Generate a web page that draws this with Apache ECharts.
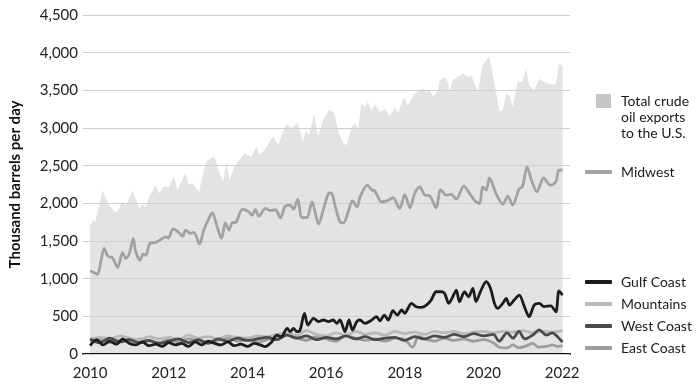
<!DOCTYPE html>
<html>
<head>
<meta charset="utf-8">
<script src="https://cdn.jsdelivr.net/npm/echarts@6/dist/echarts.min.js"></script>
<style>html,body{margin:0;padding:0;background:#fff;}#c{width:700px;height:387px;}</style>
</head>
<body>
<div id="c"></div>
<script>
// [year, thousand barrels per day]
const totalPts = [[2010.00,1700],[2010.07,1777],[2010.13,1754],[2010.32,2166],[2010.45,2002],[2010.61,1887],[2010.70,1890],[2010.81,2020],[2010.91,1976],[2011.08,2166],[2011.25,1932],[2011.33,1989],[2011.42,1950],[2011.50,2086],[2011.67,2241],[2011.75,2131],[2011.88,2228],[2012.01,2210],[2012.13,2365],[2012.22,2175],[2012.43,2405],[2012.51,2241],[2012.60,2270],[2012.77,2153],[2012.94,2550],[2013.06,2595],[2013.16,2617],[2013.29,2400],[2013.38,2285],[2013.47,2532],[2013.54,2307],[2013.67,2484],[2013.92,2665],[2014.10,2620],[2014.23,2749],[2014.30,2640],[2014.43,2700],[2014.65,2891],[2014.78,2771],[2014.99,3059],[2015.11,2997],[2015.28,3067],[2015.41,2815],[2015.49,2970],[2015.57,2900],[2015.70,3192],[2015.79,2881],[2015.92,3103],[2016.08,3245],[2016.20,3200],[2016.33,2927],[2016.44,2794],[2016.52,2771],[2016.65,3014],[2016.73,3059],[2016.82,2990],[2016.89,3324],[2016.99,3280],[2017.06,3346],[2017.16,3230],[2017.24,3315],[2017.37,3213],[2017.49,3260],[2017.62,3156],[2017.75,3271],[2017.83,3200],[2017.98,3412],[2018.08,3300],[2018.25,3456],[2018.46,3523],[2018.55,3480],[2018.63,3510],[2018.72,3412],[2018.84,3500],[2018.89,3633],[2019.01,3677],[2019.10,3600],[2019.14,3478],[2019.22,3633],[2019.48,3722],[2019.60,3680],[2019.69,3700],[2019.86,3478],[2019.98,3832],[2020.15,3951],[2020.28,3589],[2020.41,3213],[2020.49,3240],[2020.58,3456],[2020.66,3430],[2020.74,3279],[2020.87,3611],[2020.99,3611],[2021.08,3788],[2021.16,3570],[2021.29,3500],[2021.42,3655],[2021.54,3610],[2021.71,3580],[2021.84,3575],[2021.92,3854],[2022.01,3832]];

const midwestPts = [[2010.00,1105],[2010.11,1078],[2010.19,1056],[2010.28,1246],[2010.36,1401],[2010.45,1300],[2010.57,1277],[2010.70,1150],[2010.83,1344],[2010.91,1269],[2010.99,1320],[2011.10,1534],[2011.16,1357],[2011.27,1246],[2011.35,1326],[2011.42,1310],[2011.52,1468],[2011.67,1481],[2011.80,1521],[2011.92,1556],[2011.99,1540],[2012.11,1662],[2012.22,1630],[2012.35,1565],[2012.43,1644],[2012.56,1600],[2012.64,1615],[2012.78,1459],[2012.89,1644],[2013.06,1843],[2013.11,1874],[2013.23,1688],[2013.34,1534],[2013.44,1741],[2013.53,1644],[2013.61,1741],[2013.71,1750],[2013.87,1919],[2014.03,1890],[2014.12,1843],[2014.20,1919],[2014.29,1830],[2014.46,1932],[2014.58,1905],[2014.71,1915],[2014.84,1808],[2014.96,1962],[2015.09,1976],[2015.17,1920],[2015.28,2051],[2015.38,1813],[2015.51,1810],[2015.64,2020],[2015.81,1724],[2015.93,1920],[2016.06,2131],[2016.13,2139],[2016.23,1965],[2016.35,1754],[2016.44,1741],[2016.56,1885],[2016.67,2033],[2016.79,1953],[2016.86,2080],[2017.05,2241],[2017.16,2180],[2017.24,2165],[2017.41,2020],[2017.58,2040],[2017.70,2075],[2017.87,1932],[2018.00,2115],[2018.13,1940],[2018.25,2130],[2018.38,2219],[2018.51,2110],[2018.63,2100],[2018.80,1940],[2018.91,2183],[2019.06,2108],[2019.18,2120],[2019.31,2055],[2019.50,2228],[2019.65,2130],[2019.77,2042],[2019.90,1998],[2019.98,2219],[2020.07,2175],[2020.15,2338],[2020.32,2130],[2020.49,1989],[2020.62,2095],[2020.74,1976],[2020.91,2195],[2020.99,2219],[2021.11,2484],[2021.22,2307],[2021.36,2153],[2021.53,2338],[2021.70,2241],[2021.84,2285],[2021.92,2440],[2022.01,2440]];

const gulfPts = [[2010.00,110],[2010.17,190],[2010.33,120],[2010.50,170],[2010.67,130],[2010.83,200],[2011.00,140],[2011.17,120],[2011.33,160],[2011.50,110],[2011.67,130],[2011.83,100],[2012.00,150],[2012.17,120],[2012.33,140],[2012.50,100],[2012.67,160],[2012.83,120],[2013.00,170],[2013.17,140],[2013.33,120],[2013.50,160],[2013.67,110],[2013.83,130],[2014.00,100],[2014.17,140],[2014.33,120],[2014.45,97],[2014.60,150],[2014.75,250],[2014.86,230],[2015.01,340],[2015.09,296],[2015.17,340],[2015.26,296],[2015.34,320],[2015.45,539],[2015.54,384],[2015.68,473],[2015.81,430],[2015.93,451],[2016.06,430],[2016.18,451],[2016.27,407],[2016.35,451],[2016.48,296],[2016.58,451],[2016.67,318],[2016.78,430],[2016.86,451],[2016.99,407],[2017.16,451],[2017.28,495],[2017.37,440],[2017.48,517],[2017.58,451],[2017.70,574],[2017.81,517],[2017.92,584],[2018.00,540],[2018.08,606],[2018.17,672],[2018.29,628],[2018.42,620],[2018.55,650],[2018.67,716],[2018.80,826],[2018.93,826],[2019.01,805],[2019.12,672],[2019.22,760],[2019.31,849],[2019.39,694],[2019.52,826],[2019.62,760],[2019.73,871],[2019.81,694],[2019.94,849],[2020.07,959],[2020.18,871],[2020.28,672],[2020.36,606],[2020.49,672],[2020.58,738],[2020.66,650],[2020.78,716],[2020.91,782],[2021.04,628],[2021.16,495],[2021.29,650],[2021.42,672],[2021.54,628],[2021.71,640],[2021.84,561],[2021.92,839],[2022.01,782]];

const mountainsPts = [[2010.00,190],[2010.25,220],[2010.50,200],[2010.75,240],[2011.00,210],[2011.25,190],[2011.50,230],[2011.75,200],[2012.00,220],[2012.25,190],[2012.50,250],[2012.75,210],[2013.00,230],[2013.25,200],[2013.50,240],[2013.75,220],[2014.00,210],[2014.25,240],[2014.50,230],[2014.75,260],[2015.00,280],[2015.25,250],[2015.50,310],[2015.75,260],[2016.00,240],[2016.25,280],[2016.50,250],[2016.75,300],[2017.00,260],[2017.25,280],[2017.50,250],[2017.75,300],[2018.00,270],[2018.25,290],[2018.50,260],[2018.75,300],[2019.00,280],[2019.25,300],[2019.50,270],[2019.75,290],[2020.00,300],[2020.25,280],[2020.50,300],[2020.75,290],[2021.00,310],[2021.25,280],[2021.50,300],[2021.75,290],[2022.01,310]];

const westPts = [[2010.00,200],[2010.25,150],[2010.50,210],[2010.75,160],[2011.00,190],[2011.25,150],[2011.50,180],[2011.75,140],[2012.00,170],[2012.25,200],[2012.50,150],[2012.75,190],[2013.00,140],[2013.25,200],[2013.50,170],[2013.75,210],[2014.00,180],[2014.25,200],[2014.50,220],[2014.75,190],[2015.00,250],[2015.25,210],[2015.50,240],[2015.75,190],[2016.00,220],[2016.25,200],[2016.50,240],[2016.75,200],[2017.00,230],[2017.25,190],[2017.50,210],[2017.75,220],[2018.00,180],[2018.25,230],[2018.50,200],[2018.75,240],[2019.00,220],[2019.25,260],[2019.50,230],[2019.75,270],[2020.00,240],[2020.25,260],[2020.40,170],[2020.60,280],[2020.75,210],[2020.90,300],[2021.05,200],[2021.25,250],[2021.42,320],[2021.60,250],[2021.75,280],[2021.90,220],[2022.01,160]];

const eastPts = [[2010.00,170],[2010.25,200],[2010.50,150],[2010.75,180],[2011.00,160],[2011.25,200],[2011.50,170],[2011.75,150],[2012.00,190],[2012.25,160],[2012.50,200],[2012.75,170],[2013.00,150],[2013.25,180],[2013.50,220],[2013.75,170],[2014.00,200],[2014.25,160],[2014.50,190],[2014.75,230],[2015.00,270],[2015.25,220],[2015.50,180],[2015.75,230],[2016.00,200],[2016.25,170],[2016.50,240],[2016.75,210],[2017.00,180],[2017.25,200],[2017.50,170],[2017.75,210],[2018.00,190],[2018.20,90],[2018.35,230],[2018.50,200],[2018.75,170],[2019.00,210],[2019.25,180],[2019.50,200],[2019.75,170],[2020.00,190],[2020.25,150],[2020.40,90],[2020.60,80],[2020.75,120],[2020.90,80],[2021.10,110],[2021.25,140],[2021.40,90],[2021.60,100],[2021.75,120],[2021.90,100],[2022.01,110]];

const yearTicks = [2010, 2012, 2014, 2016, 2018, 2020, 2022];
const yTicks = [0, 500, 1000, 1500, 2000, 2500, 3000, 3500, 4000, 4500];
const lineLegendNames = ['Midwest', 'Gulf Coast', 'Mountains', 'West Coast', 'East Coast'];
const lineLegendTops = [164, 274, 296, 318, 340];

const FONT = 'Lato';
const lineS = (name, data, color, z) => ({
  name, type: 'line', data, symbol: 'none', smooth: 0.3, z,
  lineStyle: { color, width: 2.8 }, itemStyle: { color }
});
const lineLegend = (name, top) => ({
  data: [{ name, icon: 'roundRect' }],
  left: 585, top, padding: 0, itemWidth: 27, itemHeight: 4, selectedMode: false,
  textStyle: { fontFamily: FONT, fontSize: 14, color: '#1a1a1a', lineHeight: 16, padding: [0, 0, 0, 4] }
});

const chart = echarts.init(document.getElementById('c'), null, { renderer: 'canvas' });
chart.setOption({
  animation: false,
  backgroundColor: '#fff',
  textStyle: { fontFamily: FONT },
  grid: { left: 81, right: 130, top: 15, bottom: 33, containLabel: false },
  xAxis: {
    type: 'value', min: 2009.82, max: 2022.2,
    axisLine: { show: true, onZero: false, lineStyle: { color: '#111', width: 2 } },
    axisTick: { show: false },
    splitLine: { show: false },
    axisLabel: { customValues: yearTicks, color: '#222', fontSize: 15, fontFamily: FONT, margin: 12, formatter: v => String(v) }
  },
  yAxis: {
    type: 'value', min: 0, max: 4500, interval: 500, z: 1,
    name: 'Thousand barrels per day', nameLocation: 'middle', nameGap: 60,
    nameTextStyle: { fontFamily: FONT, fontWeight: 'bold', fontSize: 15, color: '#111' },
    axisLine: { show: false }, axisTick: { show: false },
    splitLine: { lineStyle: { color: '#cfcfcf', width: 1 } },
    axisLabel: { customValues: yTicks, color: '#222', fontSize: 15, fontFamily: FONT, margin: 5, formatter: v => v.toLocaleString('en-US') }
  },
  legend: [
    {
      data: [{ name: 'Total crude oil exports to the U.S.', icon: 'rect' }],
      left: 596, top: 61, padding: 0, itemWidth: 15, itemHeight: 14,
      itemStyle: { color: '#c6c6c6' }, selectedMode: false,
      formatter: () => '\n\nTotal crude\noil exports\nto the U.S.',
      textStyle: { fontFamily: FONT, fontSize: 14, color: '#1a1a1a', lineHeight: 16, padding: [0, 0, 0, 5] }
    }
  ].concat(lineLegendNames.map((n, i) => lineLegend(n, lineLegendTops[i]))),
  series: [
    {
      name: 'Total crude oil exports to the U.S.', type: 'line', data: totalPts, symbol: 'none', z: 0,
      lineStyle: { width: 0, color: '#e3e3e3' }, itemStyle: { color: '#c6c6c6' },
      areaStyle: { color: '#e3e3e3', opacity: 1 }
    },
    lineS('East Coast', eastPts, '#9d9d9d', 2),
    lineS('Mountains', mountainsPts, '#b9b9b9', 3),
    lineS('West Coast', westPts, '#4b4b4b', 4),
    lineS('Gulf Coast', gulfPts, '#1c1c1c', 5),
    lineS('Midwest', midwestPts, '#a2a2a2', 5)
  ]
});
</script>
</body>
</html>
